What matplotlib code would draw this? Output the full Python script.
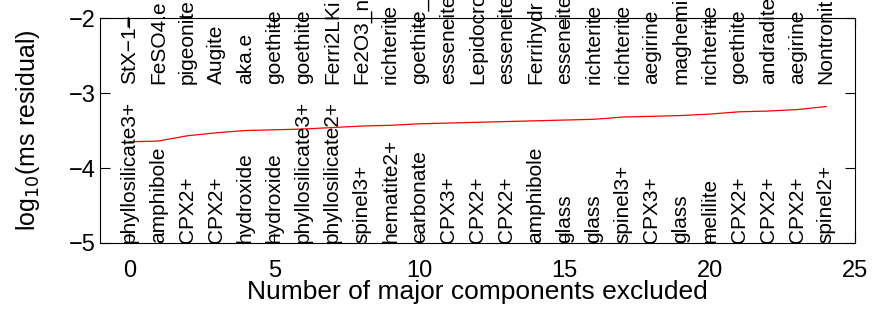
import numpy as np
import matplotlib
matplotlib.use("Agg")
import matplotlib.pyplot as plt

plt.rcParams["font.family"] = ["Liberation Sans", "DejaVu Sans"]

n_excluded = list(range(25))
log_ms_resid = [-3.65, -3.64, -3.57, -3.53, -3.50, -3.49, -3.48, -3.46, -3.44, -3.43,
                -3.41, -3.40, -3.39, -3.38, -3.37, -3.36, -3.35, -3.32, -3.31, -3.30,
                -3.28, -3.25, -3.24, -3.22, -3.18]

# spectra names (top, cut off at the figure edge) and component classes (bottom)
top_labels = ["StX\u22121\u2212", "FeSO4.e", "pigeonite", "Augite", "aka.e", "goethite",
              "goethite", "Ferri2LKi", "Fe2O3_n", "richterite", "goethite_", "esseneite",
              "Lepidocro", "esseneite", "Ferrihydr", "esseneite", "richterite", "richterite",
              "aegirine", "maghemi", "richterite", "goethite", "andradite", "aegirine",
              "Nontronit"]
bottom_labels = ["phyllosilicate3+", "amphibole", "CPX2+", "CPX2+", "hydroxide", "hydroxide",
                 "phyllosilicate3+", "phyllosilicate2+", "spinel3+", "hematite2+", "carbonate",
                 "CPX3+", "CPX2+", "CPX2+", "amphibole", "glass", "glass", "spinel3+", "CPX3+",
                 "glass", "melilite", "CPX2+", "CPX2+", "CPX2+", "spinel2+"]

fig = plt.figure(figsize=(8.79, 3.18), dpi=100)
ax = fig.add_axes([0.114, 0.236, 0.859, 0.707])

ax.plot(n_excluded, log_ms_resid, color="red", lw=0.9)

for i in n_excluded:
    ax.text(i, -2.88, top_labels[i], rotation=90, ha="center", va="bottom",
            fontsize=15, clip_on=False)
    ax.text(i, -5.0, bottom_labels[i], rotation=90, ha="center", va="bottom",
            fontsize=15)

ax.set_xlim(-1, 25)
ax.set_ylim(-5, -2)
ax.set_xticks([0, 5, 10, 15, 20, 25])
ax.set_yticks([-5, -4, -3, -2])
ax.tick_params(direction="in", top=True, right=True, labelsize=17, length=7)
ax.tick_params(axis="x", pad=12)
ax.set_xlabel("Number of major components excluded", fontsize=19, labelpad=-1)
ax.set_ylabel("log$_{10}$(ms residual)", fontsize=18, labelpad=19)

fig.savefig("out.png", dpi=100)
